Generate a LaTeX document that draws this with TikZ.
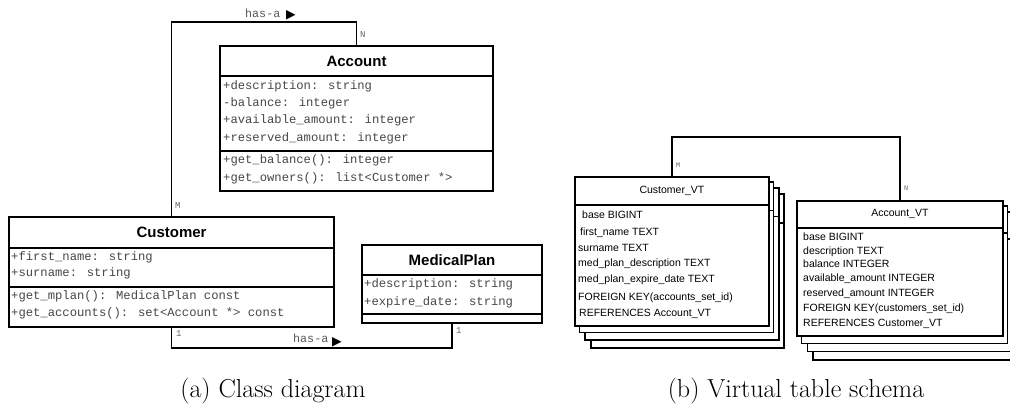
\documentclass[tikz,border=0pt]{standalone}
\usepackage{fontspec}
\newfontfamily\monofont{Liberation Mono}
\newfontfamily\uisans{Liberation Sans}
\newfontfamily\symfont{DejaVu Sans}
\begin{document}
\begin{tikzpicture}[x=1pt,y=-1pt,
  classpart/.style={draw, line width=2.1pt, fill=white, inner sep=0pt, anchor=north west},
  classtitle/.style={classpart, font=\uisans\bfseries\fontsize{15}{18}\selectfont},
  member/.style={anchor=base west, inner sep=0pt, text=black!72,
                 font=\monofont\fontsize{12.2}{14}\selectfont},
  assoc/.style={line width=1.8pt, line join=miter},
  rolelabel/.style={anchor=base west, inner sep=0pt, text=black!65,
                    font=\monofont\fontsize{11.7}{13}\selectfont},
  mult/.style={anchor=base west, inner sep=0pt, text=black!60,
               font=\monofont\fontsize{9}{10}\selectfont},
  vtmult/.style={anchor=base west, inner sep=0pt, text=black!60,
                 font=\monofont\fontsize{7}{8}\selectfont},
  vtpart/.style={draw, line width=1.8pt, fill=white, inner sep=0pt, anchor=north west,
                 font=\uisans\fontsize{10.5}{12}\selectfont},
  vtshadow/.style={draw, line width=1.5pt, fill=white},
  column/.style={anchor=base west, inner sep=0pt, font=\uisans\fontsize{10.5}{12}\selectfont},
  caption/.style={anchor=base, inner sep=0pt, font=\fontsize{26}{30}\selectfont},
  dirmark/.style={anchor=base west, inner sep=0pt, font=\symfont\fontsize{12.5}{14}\selectfont}
]
\useasboundingbox (0,0) rectangle (1010,407);

% ---------------- (a) class diagram ----------------
% Account
\node[classtitle, minimum width=273pt, minimum height=30pt] (acc) at (219,45) {Account};
\node[classpart, minimum width=273pt, minimum height=75pt] (acc-attr) at (219,75) {};
\node[classpart, minimum width=273pt, minimum height=40pt] (acc-meth) at (219,150) {};
\node[member] (acc-a1) at (223,89)  {+description: string};
\node[member] (acc-a2) at (223,106) {-balance: integer};
\node[member] (acc-a3) at (223,123) {+available\_amount: integer};
\node[member] (acc-a4) at (223,141) {+reserved\_amount: integer};
\node[member] (acc-m1) at (223,163) {+get\_balance(): integer};
\node[member] (acc-m2) at (223,181) {+get\_owners(): list<Customer *>};

% Customer
\node[classtitle, minimum width=325pt, minimum height=31pt] (cus) at (8,216) {Customer};
\node[classpart, minimum width=325pt, minimum height=39pt] (cus-attr) at (8,247) {};
\node[classpart, minimum width=325pt, minimum height=40pt] (cus-meth) at (8,286) {};
\node[member] (cus-a1) at (11,260) {+first\_name: string};
\node[member] (cus-a2) at (11,276) {+surname: string};
\node[member] (cus-m1) at (11,299) {+get\_mplan(): MedicalPlan const};
\node[member] (cus-m2) at (11,316) {+get\_accounts(): set<Account *> const};

% MedicalPlan
\node[classtitle, minimum width=180pt, minimum height=30pt] (mp) at (361,244) {MedicalPlan};
\node[classpart, minimum width=180pt, minimum height=39pt] (mp-attr) at (361,274) {};
\node[classpart, minimum width=180pt, minimum height=9pt] (mp-meth) at (361,313) {};
\node[member] (mp-a1) at (364,287) {+description: string};
\node[member] (mp-a2) at (364,305) {+expire\_date: string};

% associations
\coordinate (top-bend) at (263,22);
\coordinate (bot-bend) at (310,348);
\draw[assoc] (cus.north) |- (top-bend) -| (acc.north);
\draw[assoc] (cus-meth.south) |- (bot-bend) -| (mp-meth.south);

\node[rolelabel] (has1) at (245,17) {has-a};
\node[dirmark] (has1-dir) at (286,18.5) {▶};
\node[rolelabel] (has2) at (293,342) {has-a};
\node[dirmark] (has2-dir) at (332,345.5) {▶};
\node[mult] (acc-n) at (360,37) {N};
\node[mult] (cus-m) at (175,208) {M};
\node[mult] (cus-1) at (176,336) {1};
\node[mult] (mp-1) at (456,333) {1};

\node[caption] (cap-a) at (273,397) {(a) Class diagram};

% ---------------- (b) virtual table schema ----------------
% stacked copies behind Customer_VT
\foreach \k in {3,2,1} {
  \path[vtshadow] (574+5.6*\k,176+6*\k) rectangle (768+5.4*\k,325+7.6*\k);
  \draw[line width=1.5pt] (574+5.6*\k,204+6.3*\k) -- (768+5.4*\k,204+6.3*\k);
}
\node[vtpart, minimum width=194pt, minimum height=28pt] (cvt) at (574,176) {Customer\_VT};
\node[vtpart, minimum width=194pt, minimum height=121pt] (cvt-body) at (574,204) {};
\node[column] (cvt-c1) at (582,218) {base BIGINT};
\node[column] (cvt-c2) at (580,235) {first\_name TEXT};
\node[column] (cvt-c3) at (578,251) {surname TEXT};
\node[column] (cvt-c4) at (578,266) {med\_plan\_description TEXT};
\node[column] (cvt-c5) at (578,282) {med\_plan\_expire\_date TEXT};
\node[column] (cvt-c6) at (578,300) {FOREIGN KEY(accounts\_set\_id)};
\node[column] (cvt-c7) at (579,316) {REFERENCES Account\_VT};

% stacked copies behind Account_VT
\foreach \k in {3,2,1} {
  \path[vtshadow] (796+5.7*\k,200+6*\k) rectangle (1002+5.3*\k,335+8.3*\k);
  \draw[line width=1.5pt] (796+5.7*\k,227+6*\k) -- (1002+5.3*\k,227+6*\k);
}
\node[vtpart, minimum width=206pt, minimum height=27pt] (avt) at (796,200) {Account\_VT};
\node[vtpart, minimum width=206pt, minimum height=108pt] (avt-body) at (796,227) {};
\node[column] (avt-c1) at (803,240) {base BIGINT};
\node[column] (avt-c2) at (803,254) {description TEXT};
\node[column] (avt-c3) at (803,267) {balance INTEGER};
\node[column] (avt-c4) at (803,281) {available\_amount INTEGER};
\node[column] (avt-c5) at (803,296) {reserved\_amount INTEGER};
\node[column] (avt-c6) at (803,311) {FOREIGN KEY(customers\_set\_id)};
\node[column] (avt-c7) at (803,326) {REFERENCES Customer\_VT};

\coordinate (vt-bend) at (785,137);
\draw[line width=1.5pt, line join=miter] (cvt.north) |- (vt-bend) -| (avt.north);
\node[vtmult] (cvt-m) at (676,167) {M};
\node[vtmult] (avt-n) at (904,190) {N};

\node[caption] (cap-b) at (796,397) {(b) Virtual table schema};
\end{tikzpicture}
\end{document}
